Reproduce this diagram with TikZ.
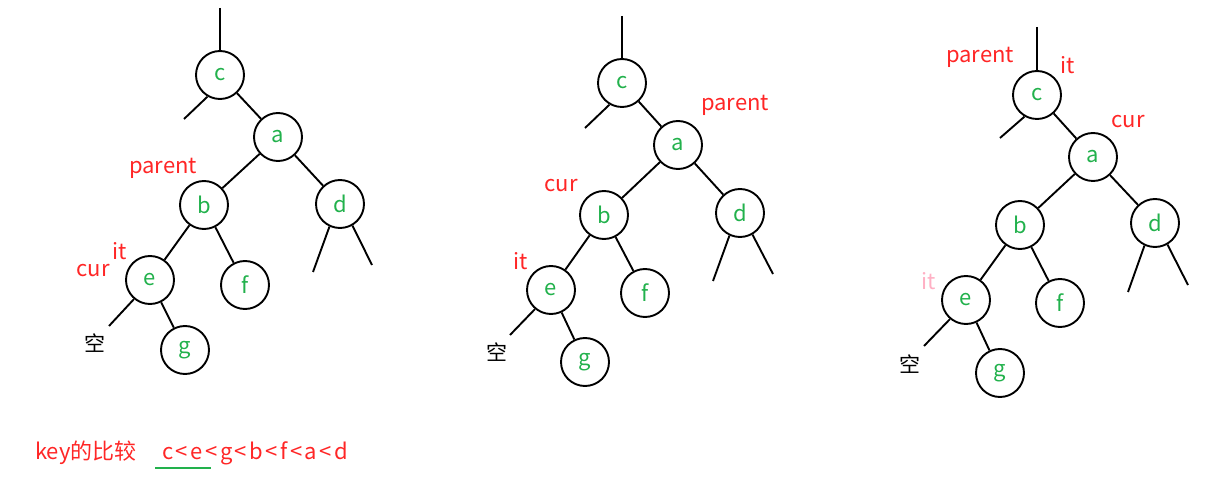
\documentclass[tikz,border=0pt]{standalone}
\usepackage{fontspec}
\setmainfont{Noto Sans CJK SC}
\definecolor{kgreen}{RGB}{34,177,76}
\definecolor{kred}{RGB}{255,38,38}
\definecolor{kpink}{RGB}{255,176,196}
\newcommand{\kl}{\kern2.5pt<\kern2.5pt}
\begin{document}
\begin{tikzpicture}[x=1pt,y=-1pt,
  tn/.style={circle,draw=black,line width=1.9pt,minimum size=48pt,inner sep=0pt,text=kgreen,font=\fontsize{22}{24}\selectfont},
  edge/.style={line width=1.9pt,black},
  lbl/.style={text=kred,font=\fontsize{22}{24}\selectfont,inner sep=0pt},
  plbl/.style={text=kpink,font=\fontsize{22}{24}\selectfont,inner sep=0pt},
  empt/.style={text=black,font=\fontsize{21}{23}\selectfont,inner sep=0pt}]
\useasboundingbox (0,0) rectangle (1224,486);
% ---------- tree 1 ----------
\node[tn] (c1) at (220,75) {c};
\node[tn] (a1) at (278,137) {a};
\node[tn] (b1) at (204,205) {b};
\node[tn] (d1) at (340,204) {d};
\node[tn] (e1) at (150,280) {e};
\node[tn] (f1) at (245,285) {f};
\node[tn] (g1) at (185,350) {g};
\coordinate (c1t) at (220,8);
\coordinate (c1l) at (184,119);
\coordinate (d1l) at (313,272);
\coordinate (d1r) at (372,265);
\coordinate (e1l) at (109,326);
\draw[edge] (c1t) -- (c1.north);
\draw[edge] (c1.-120) -- (c1l);
\draw[edge] (c1) -- (a1);
\draw[edge] (a1) -- (b1);
\draw[edge] (a1) -- (d1);
\draw[edge] (b1) -- (e1);
\draw[edge] (b1) -- (f1);
\draw[edge] (e1) -- (g1);
\draw[edge] (d1.-115) -- (d1l);
\draw[edge] (d1.-60) -- (d1r);
\draw[edge] (e1.-130) -- (e1l);
\node[empt] (k1) at (95,343) {空};
\node[lbl] (p1) at (163,168) {parent};
\node[lbl] (i1) at (120,251) {it};
\node[lbl] (u1) at (93,271) {cur};
% ---------- tree 2 ----------
\node[tn] (c2) at (622,83) {c};
\node[tn] (a2) at (678,145) {a};
\node[tn] (b2) at (604,215) {b};
\node[tn] (d2) at (740,213) {d};
\node[tn] (e2) at (551,290) {e};
\node[tn] (f2) at (645,293) {f};
\node[tn] (g2) at (585,362) {g};
\coordinate (c2t) at (622,16);
\coordinate (c2l) at (585,128);
\coordinate (d2l) at (713,281);
\coordinate (d2r) at (773,274);
\coordinate (e2l) at (510,335);
\draw[edge] (c2t) -- (c2.north);
\draw[edge] (c2.-120) -- (c2l);
\draw[edge] (c2) -- (a2);
\draw[edge] (a2) -- (b2);
\draw[edge] (a2) -- (d2);
\draw[edge] (b2) -- (e2);
\draw[edge] (b2) -- (f2);
\draw[edge] (e2) -- (g2);
\draw[edge] (d2.-115) -- (d2l);
\draw[edge] (d2.-60) -- (d2r);
\draw[edge] (e2.-130) -- (e2l);
\node[empt] (k2) at (497,352) {空};
\node[lbl] (p2) at (735,105) {parent};
\node[lbl] (u2) at (561,186) {cur};
\node[lbl] (i2) at (521,261) {it};
% ---------- tree 3 ----------
\node[tn] (c3) at (1037,95) {c};
\node[tn] (a3) at (1093,157) {a};
\node[tn] (b3) at (1020,225) {b};
\node[tn] (d3) at (1155,223) {d};
\node[tn] (e3) at (966,300) {e};
\node[tn] (f3) at (1060,303) {f};
\node[tn] (g3) at (1000,373) {g};
\coordinate (c3t) at (1037,27);
\coordinate (c3l) at (1000,138);
\coordinate (d3l) at (1128,292);
\coordinate (d3r) at (1188,285);
\coordinate (e3l) at (924,346);
\draw[edge] (c3t) -- (c3.north);
\draw[edge] (c3.-120) -- (c3l);
\draw[edge] (c3) -- (a3);
\draw[edge] (a3) -- (b3);
\draw[edge] (a3) -- (d3);
\draw[edge] (b3) -- (e3);
\draw[edge] (b3) -- (f3);
\draw[edge] (e3) -- (g3);
\draw[edge] (d3.-115) -- (d3l);
\draw[edge] (d3.-60) -- (d3r);
\draw[edge] (e3.-130) -- (e3l);
\node[empt] (k3) at (910,364) {空};
\node[lbl] (p3) at (980,57) {parent};
\node[lbl] (i3) at (1068,65) {it};
\node[lbl] (u3) at (1128,122) {cur};
\node[plbl] (i4) at (929,281) {it};
% ---------- bottom ----------
\node[lbl,anchor=west] (key) at (35,453) {key的比较};
\node[lbl,anchor=west] (ord) at (162,453) {c\kl e\kl g\kl b\kl f\kl a\kl d};
\coordinate (ul) at (155,468);
\coordinate (ur) at (211,468);
\draw[line width=1.9pt,kgreen] (ul) -- (ur);
\end{tikzpicture}
\end{document}
